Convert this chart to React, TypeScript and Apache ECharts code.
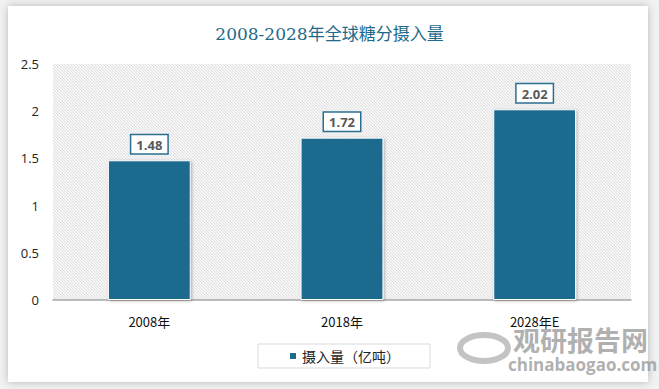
import React, { useEffect, useRef } from "react";
import * as echarts from "echarts";

const categories = ["2008年", "2018年", "2028年E"];
const values = [1.48, 1.72, 2.02];
const seriesName = "摄入量（亿吨）";
const titleText = "2008-2028年全球糖分摄入量";

function makeHatch(): HTMLCanvasElement {
  const c = document.createElement("canvas");
  c.width = 6;
  c.height = 6;
  const ctx = c.getContext("2d")!;
  ctx.fillStyle = "#ffffff";
  ctx.fillRect(0, 0, 6, 6);
  ctx.strokeStyle = "#dedede";
  ctx.lineWidth = 1.1;
  for (let k = -6; k <= 12; k += 3) {
    ctx.beginPath();
    ctx.moveTo(k, 0);
    ctx.lineTo(k + 6, 6);
    ctx.stroke();
  }
  return c;
}

export default function App() {
  const ref = useRef<HTMLDivElement>(null);
  useEffect(() => {
    const chart = echarts.init(ref.current!, null, { renderer: "svg" });
    chart.setOption({
      animation: false,
      backgroundColor: "#f2f2f2",
      graphic: [
        {
          type: "rect",
          z: -10,
          shape: { x: 8, y: 6, width: 640, height: 376 },
          style: { fill: "#ffffff", shadowBlur: 8, shadowColor: "rgba(0,0,0,0.25)" },
        },
        {
          type: "text",
          z: 50,
          left: 513,
          top: 326,
          style: {
            text: "观研报告网",
            fill: "rgba(150,150,150,0.75)",
            font: "bold 27px 'Noto Sans CJK SC'",
          },
        },
        {
          type: "text",
          z: 50,
          left: 508,
          top: 356,
          style: {
            text: "chinabaogao.com",
            fill: "rgba(150,150,150,0.75)",
            font: "bold 17px 'Open Sans'",
          },
        },
        {
          type: "ellipse",
          z: 50,
          shape: { cx: 484, cy: 348, rx: 24, ry: 13 },
          style: { fill: "none", stroke: "rgba(170,170,170,0.7)", lineWidth: 6 },
        },
      ],
      title: {
        text: titleText,
        left: "center",
        top: 20,
        textStyle: {
          fontFamily: "'DejaVu Serif', 'Noto Sans CJK SC', serif",
          fontSize: 17,
          fontWeight: "normal",
          color: "#1f6a8a",
        },
      },
      grid: {
        left: 53,
        right: 28,
        top: 64,
        bottom: 89,
        show: true,
        borderWidth: 0,
        backgroundColor: { image: makeHatch(), repeat: "repeat" },
      },
      legend: {
        show: true,
        bottom: 21,
        left: 258,
        itemWidth: 8,
        itemHeight: 8,
        itemGap: 10,
        padding: [5, 30, 5, 30],
        borderColor: "#d9d9d9",
        borderWidth: 1,
        backgroundColor: "#ffffff",
        textStyle: { fontSize: 14, color: "#222", fontFamily: "'Noto Sans CJK SC', sans-serif" },
        data: [{ name: seriesName, icon: "rect" }],
      },
      xAxis: {
        type: "category",
        data: categories,
        axisLine: { lineStyle: { color: "#a6a6a6", width: 1.5 } },
        axisTick: { show: false },
        axisLabel: {
          fontSize: 13,
          color: "#111",
          margin: 15,
          fontFamily: "'Noto Sans CJK SC', 'Open Sans', sans-serif",
        },
      },
      yAxis: {
        type: "value",
        min: 0,
        max: 2.5,
        interval: 0.5,
        splitLine: { show: false },
        axisLine: { show: false },
        axisTick: { show: false },
        axisLabel: {
          fontSize: 13,
          color: "#222",
          margin: 14,
          fontFamily: "'Open Sans', sans-serif",
        },
      },
      series: [
        {
          name: seriesName,
          type: "bar",
          data: values,
          barWidth: "43%",
          itemStyle: {
            color: "#1c6a8e",
            borderColor: "#ffffff",
            borderWidth: 1,
            shadowBlur: 3,
            shadowColor: "rgba(0,0,0,0.3)",
            shadowOffsetX: 1,
            shadowOffsetY: 1,
          },
          label: {
            show: true,
            position: "top",
            distance: 7,
            formatter: (p: any) => p.value.toFixed(2),
            backgroundColor: "#ffffff",
            borderColor: "#2a6f8f",
            borderWidth: 1.5,
            padding: [3, 5, 2, 5],
            color: "#595959",
            fontWeight: "bold",
            fontSize: 13,
            fontFamily: "'Open Sans', sans-serif",
          },
        },
      ],
    });
    return () => chart.dispose();
  }, []);
  return <div ref={ref} style={{ width: 659, height: 389, position: "absolute", left: 0, top: 0 }} />;
}
